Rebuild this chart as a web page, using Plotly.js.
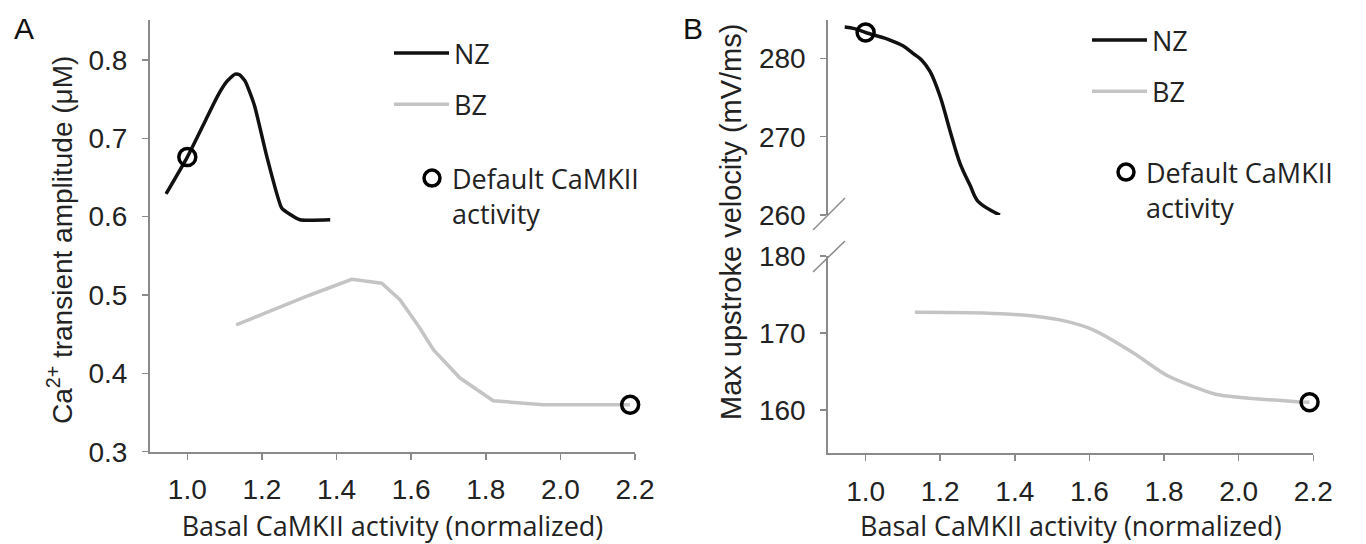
<!DOCTYPE html>
<html><head><meta charset="utf-8">
<script src="https://cdn.plot.ly/plotly-3.0.1.min.js"></script>
<style>html,body{margin:0;padding:0;background:#fff}</style>
</head><body><div id="chart" style="width:1366px;height:544px"></div>
<script>
// ---- data ----
const xTicks = [1.0, 1.2, 1.4, 1.6, 1.8, 2.0, 2.2];
const xTickText = ['1.0', '1.2', '1.4', '1.6', '1.8', '2.0', '2.2'];
const yTicksA = [0.3, 0.4, 0.5, 0.6, 0.7, 0.8];
const yTickTextA = ['0.3', '0.4', '0.5', '0.6', '0.7', '0.8'];
const yTicksBUpper = [260, 270, 280];
const yTicksBLower = [160, 170, 180];

const nzA_x = [0.943, 1.0, 1.05, 1.08, 1.105, 1.128, 1.14, 1.155, 1.18, 1.213, 1.253, 1.275, 1.302, 1.383];
const nzA_y = [0.629, 0.676, 0.724, 0.753, 0.772, 0.782, 0.781, 0.773, 0.742, 0.677, 0.611, 0.603, 0.596, 0.596];
const bzA_x = [1.131, 1.25, 1.329, 1.441, 1.521, 1.570, 1.62, 1.660, 1.731, 1.82, 1.954, 2.142, 2.187];
const bzA_y = [0.462, 0.485, 0.500, 0.520, 0.515, 0.494, 0.460, 0.430, 0.394, 0.365, 0.360, 0.360, 0.360];

const nzB_x = [0.944, 0.97, 1.0, 1.057, 1.10, 1.128, 1.15, 1.173, 1.2, 1.226, 1.253, 1.28, 1.302, 1.36];
const nzB_y = [284.0, 283.8, 283.3, 282.5, 281.6, 280.6, 279.8, 278.3, 275.1, 270.8, 266.6, 263.8, 261.7, 260.0];
const bzB_x = [1.132, 1.316, 1.45, 1.539, 1.61, 1.718, 1.807, 1.88, 1.941, 2.147, 2.19];
const bzB_y = [172.7, 172.6, 172.2, 171.5, 170.4, 167.4, 164.5, 163.0, 162.0, 161.1, 161.0];

const defaultX = 1.0; // default CaMKII activity for NZ (BZ default = last point)

// ---- styles ----
const NZ_COLOR = '#111111';
const BZ_COLOR = '#c4c4c4';
const AX_COLOR = '#8a8a8a';
const TICK_FONT = {family: 'Liberation Sans, Arial, sans-serif', size: 28, color: '#222'};
const TITLE_FONT = {family: 'Open Sans, sans-serif', size: 27, color: '#222'};
const LEG_FONT = {family: 'Open Sans, sans-serif', size: 27, color: '#222'};
const W = 1366, H = 544;
const px = v => v / W, py = v => 1 - v / H;

const iA = nzA_x.indexOf(defaultX), iB = nzB_x.indexOf(defaultX);
const circ = {symbol: 'circle-open', size: 17, color: '#000', line: {width: 3.5, color: '#000'}};

const traces = [
  {x: nzA_x, y: nzA_y, xaxis: 'x', yaxis: 'y', mode: 'lines', name: 'NZ', legend: 'legend', legendgroup: 'a1',
   line: {color: NZ_COLOR, width: 3.5, shape: 'spline', smoothing: 0.5}, cliponaxis: false},
  {x: bzA_x, y: bzA_y, xaxis: 'x', yaxis: 'y', mode: 'lines', name: 'BZ', legend: 'legend', legendgroup: 'a2',
   line: {color: BZ_COLOR, width: 3.5}, cliponaxis: false},
  {x: [nzA_x[iA], bzA_x[bzA_x.length - 1]], y: [nzA_y[iA], bzA_y[bzA_y.length - 1]], xaxis: 'x', yaxis: 'y',
   mode: 'markers', name: 'Default CaMKII<br>activity', legend: 'legend2', marker: circ, cliponaxis: false},

  {x: nzB_x, y: nzB_y, xaxis: 'x2', yaxis: 'y2', mode: 'lines', name: 'NZ', legend: 'legend3', legendgroup: 'b1',
   line: {color: NZ_COLOR, width: 3.5, shape: 'spline', smoothing: 1.0}, cliponaxis: false},
  {x: bzB_x, y: bzB_y, xaxis: 'x2', yaxis: 'y3', mode: 'lines', name: 'BZ', legend: 'legend3', legendgroup: 'b2',
   line: {color: BZ_COLOR, width: 3.5, shape: 'spline', smoothing: 0.8}, cliponaxis: false},
  {x: [nzB_x[iB]], y: [nzB_y[iB]], xaxis: 'x2', yaxis: 'y2', mode: 'markers', name: 'Default CaMKII<br>activity',
   legend: 'legend4', marker: circ, cliponaxis: false},
  {x: [bzB_x[bzB_x.length - 1]], y: [bzB_y[bzB_y.length - 1]], xaxis: 'x2', yaxis: 'y3', mode: 'markers',
   showlegend: false, marker: circ, cliponaxis: false}
];

const axBase = {showline: true, linecolor: AX_COLOR, linewidth: 2, ticks: 'outside', ticklen: 6, tickwidth: 1.5,
  tickcolor: AX_COLOR, showgrid: false, zeroline: false, tickfont: TICK_FONT, fixedrange: true};
const xBase = Object.assign({}, axBase, {range: [0.9, 2.2], tickvals: xTicks, ticktext: xTickText,
  ticklabelstandoff: 6});
const yBase = Object.assign({}, axBase, {ticklabelstandoff: 9});

const legBase = {font: LEG_FONT, bgcolor: 'rgba(0,0,0,0)', borderwidth: 0, xanchor: 'left', yanchor: 'top',
  tracegroupgap: 13, traceorder: 'grouped', valign: 'top'};

const layout = {
  width: W, height: H, margin: {l: 0, r: 0, t: 0, b: 0},
  paper_bgcolor: '#fff', plot_bgcolor: 'rgba(0,0,0,0)', showlegend: true,
  xaxis: Object.assign({}, xBase, {domain: [px(150), px(635)], anchor: 'y',
    title: {text: 'Basal CaMKII activity (normalized)', font: TITLE_FONT}}),
  yaxis: Object.assign({}, yBase, {domain: [py(451.7), py(20)], range: [0.3, 0.851], anchor: 'x',
    tickvals: yTicksA, ticktext: yTickTextA}),
  xaxis2: Object.assign({}, xBase, {domain: [px(828.3), px(1313.3)], anchor: 'y3',
    title: {text: 'Basal CaMKII activity (normalized)', font: TITLE_FONT}}),
  yaxis2: Object.assign({}, yBase, {domain: [py(215), py(20)], range: [260, 284.9], anchor: 'x2',
    tickvals: yTicksBUpper}),
  yaxis3: Object.assign({}, yBase, {domain: [py(453), py(256)], range: [154.4, 180], anchor: 'x2',
    tickvals: yTicksBLower}),
  legend: Object.assign({}, legBase, {x: px(389), y: py(29), itemwidth: 55}),
  legend2: Object.assign({}, legBase, {x: px(412), y: py(154)}),
  legend3: Object.assign({}, legBase, {x: px(1087), y: py(16), itemwidth: 55}),
  legend4: Object.assign({}, legBase, {x: px(1106), y: py(148)}),
  shapes: [
    {type: 'line', xref: 'paper', yref: 'paper', x0: px(813), y0: py(230), x1: px(845), y1: py(198),
     line: {color: AX_COLOR, width: 1.5}},
    {type: 'line', xref: 'paper', yref: 'paper', x0: px(813), y0: py(272), x1: px(845), y1: py(241),
     line: {color: AX_COLOR, width: 1.5}}
  ],
  annotations: [
    {text: 'A', xref: 'paper', yref: 'paper', x: px(24), y: py(28), xanchor: 'center', yanchor: 'middle',
     showarrow: false, font: {family: 'Liberation Sans, Arial, sans-serif', size: 30, color: '#111'}},
    {text: 'B', xref: 'paper', yref: 'paper', x: px(693), y: py(28), xanchor: 'center', yanchor: 'middle',
     showarrow: false, font: {family: 'Liberation Sans, Arial, sans-serif', size: 30, color: '#111'}},
    {text: 'Ca<sup>2+</sup> transient amplitude (μM)', xref: 'paper', yref: 'paper', x: px(60), y: py(240),
     xanchor: 'center', yanchor: 'middle', textangle: -90, showarrow: false,
     font: {family: 'Liberation Sans, Arial, sans-serif', size: 28, color: '#222'}},
    {text: 'Max upstroke velocity (mV/ms)', xref: 'paper', yref: 'paper', x: px(731), y: py(222),
     xanchor: 'center', yanchor: 'middle', textangle: -90, showarrow: false,
     font: {family: 'Liberation Sans, Arial, sans-serif', size: 29, color: '#222'}}
  ]
};

Plotly.newPlot('chart', traces, layout, {displayModeBar: false, staticPlot: true});
</script>
</body></html>
